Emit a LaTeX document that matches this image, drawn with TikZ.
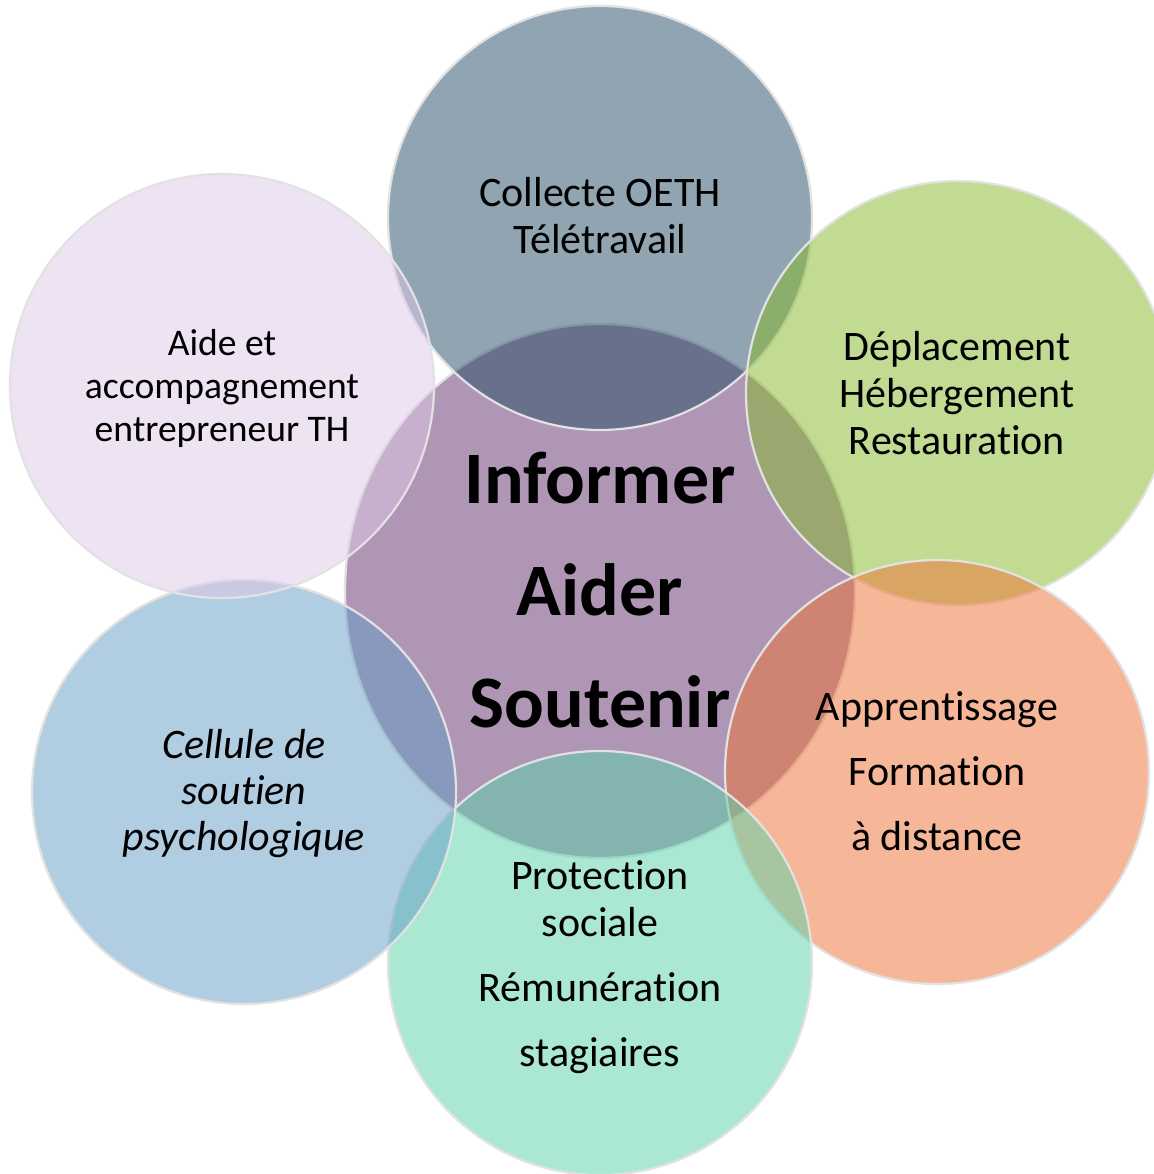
\documentclass[tikz,border=0pt]{standalone}
\usepackage{fontspec}
\setmainfont[Ligatures={NoCommon}]{Carlito}
\usetikzlibrary{shapes.geometric}
\definecolor{cTop}{RGB}{37,75,101}
\definecolor{cCen}{RGB}{97,47,109}
\definecolor{cGrn}{RGB}{135,185,41}
\definecolor{cOrg}{RGB}{239,113,51}
\definecolor{cMnt}{RGB}{89,211,171}
\definecolor{cBlu}{RGB}{101,157,197}
\definecolor{cLav}{RGB}{223,201,231}
\definecolor{cEdge}{RGB}{226,226,226}
\begin{document}
\begin{tikzpicture}[x=0.5pt,y=-0.5pt,
  bubble/.style={circle,inner sep=0pt,minimum size=212pt,fill opacity=0.5,draw=cEdge,draw opacity=1,line width=1.1pt},
  label/.style={inner sep=0pt,align=center,text=black,font=\fontsize{21}{23.5}\selectfont}]
\useasboundingbox[fill=white] (0,0) rectangle (1153,1174);
% circles
\node[bubble,ellipse,fill=cCen,minimum width=255pt,minimum height=267pt] (cen) at (600,591) {};
\node[bubble,fill=cTop] (top) at (600,218) {};
\node[bubble,fill=cGrn] (grn) at (958,393) {};
\node[bubble,fill=cOrg] (org) at (937,772) {};
\node[bubble,fill=cMnt] (mnt) at (600,963) {};
\node[bubble,fill=cBlu] (blu) at (244,792) {};
\node[bubble,fill=cLav] (lav) at (222,386) {};
% texts
\node[label,font=\bfseries\fontsize{37}{56}\selectfont] (tCen) at (600,590) {Informer\\Aider\\Soutenir};
\node[label] (tTop) at (600,216) {Collecte OETH\\Télétravail};
\node[label] (tGrn) at (957,393) {Déplacement\\Hébergement\\Restauration};
\node[label] (tOrg) at (937,771) {Apprentissage\\[9pt]Formation\\[9pt]à distance};
\node[label] (tMnt) at (600,967) {Protection\\sociale\\[9pt]Rémunération\\[9pt]stagiaires};
\node[label,font=\itshape\fontsize{21}{23}\selectfont] (tBlu) at (244,794) {Cellule de\\soutien\\psychologique};
\node[label,font=\fontsize{18.8}{21.5}\selectfont] (tLav) at (222,388) {Aide et\\accompagnement\\entrepreneur TH};
\end{tikzpicture}
\end{document}
